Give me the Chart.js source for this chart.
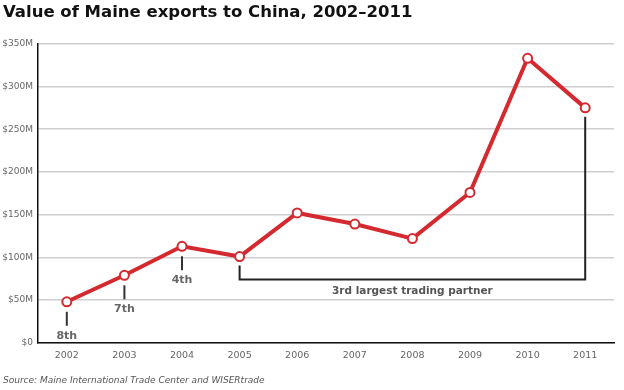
<!DOCTYPE html>
<html>
<head>
<meta charset="utf-8">
<script src="https://cdn.jsdelivr.net/npm/chart.js@4.4.1/dist/chart.umd.min.js"></script>
<style>
  html, body { margin: 0; padding: 0; background: #fff; }
  #wrap { width: 624px; height: 390px; position: relative; }
</style>
</head>
<body>
<div id="wrap"><canvas id="c" width="624" height="390"></canvas></div>
<script>
// ---- Data ----
const years = ['2002','2003','2004','2005','2006','2007','2008','2009','2010','2011'];
const exportsMillions = [48, 79, 113, 101, 152, 139, 122, 176, 333, 275];
const rankLabels = ['8th', '7th', '4th'];
const rankYears = ['2002', '2003', '2004'];
const bracketLabel = '3rd largest trading partner';
const bracketStartYear = '2005';
const bracketEndYear = '2011';
const yTickValues = [0, 50, 100, 150, 200, 250, 300, 350];

const FONT = 'DejaVu Sans, Verdana, sans-serif';

const annotations = {
  id: 'annotations',
  afterDatasetsDraw(chart) {
    const ctx = chart.ctx;
    const x = chart.scales.x, y = chart.scales.y;
    ctx.save();
    ctx.font = 'bold 11px ' + FONT;
    ctx.fillStyle = '#666';
    ctx.textAlign = 'center';
    ctx.textBaseline = 'middle';
    rankYears.forEach((yr, i) => {
      const idx = years.indexOf(yr);
      const px = x.getPixelForValue(idx);
      const py = y.getPixelForValue(exportsMillions[idx]);
      ctx.strokeStyle = '#333';
      ctx.lineWidth = 2;
      ctx.beginPath();
      ctx.moveTo(px, py + 10);
      ctx.lineTo(px, py + 24);
      ctx.stroke();
      ctx.fillText(rankLabels[i], px, py + 34);
    });
    const i0 = years.indexOf(bracketStartYear), i1 = years.indexOf(bracketEndYear);
    const x0 = x.getPixelForValue(i0), x1 = x.getPixelForValue(i1);
    const y0 = y.getPixelForValue(exportsMillions[i0]);
    const y1 = y.getPixelForValue(exportsMillions[i1]);
    const yb = y0 + 23;
    ctx.strokeStyle = '#222';
    ctx.lineWidth = 2;
    ctx.beginPath();
    ctx.moveTo(x0, y0 + 9);
    ctx.lineTo(x0, yb);
    ctx.lineTo(x1, yb);
    ctx.lineTo(x1, y1 + 9);
    ctx.stroke();
    ctx.fillStyle = '#555';
    ctx.font = 'bold 10.5px ' + FONT;
    ctx.fillText(bracketLabel, (x0 + x1) / 2, yb + 12);
    ctx.restore();
  }
};

new Chart(document.getElementById('c'), {
  type: 'line',
  data: {
    labels: years,
    datasets: [{
      data: exportsMillions,
      borderColor: '#d42a2f',
      borderWidth: 4,
      pointRadius: 4.5,
      pointBorderWidth: 2,
      pointBackgroundColor: '#fff',
      pointBorderColor: '#d42a2f',
      tension: 0,
      clip: false
    }]
  },
  options: {
    responsive: false,
    animation: false,
    devicePixelRatio: 1,
    layout: { padding: { left: 3, right: 10, top: 0, bottom: 0 } },
    plugins: {
      legend: { display: false },
      tooltip: { enabled: false },
      title: {
        display: true,
        text: 'Value of Maine exports to China, 2002–2011',
        align: 'start',
        color: '#111',
        font: { family: FONT, weight: 'bold', size: 16.5 },
        padding: { top: 3, bottom: 21 }
      },
      subtitle: {
        display: true,
        position: 'bottom',
        text: 'Source: Maine International Trade Center and WISERtrade',
        align: 'start',
        color: '#555',
        font: { family: FONT, style: 'italic', size: 9 },
        padding: { top: 7, bottom: 4 }
      }
    },
    scales: {
      x: {
        offset: true,
        grid: { display: false, drawTicks: false },
        border: { display: true, color: '#111', width: 1.5 },
        ticks: { color: '#666', font: { family: FONT, size: 9.5 }, padding: 7 }
      },
      y: {
        min: 0,
        max: 350,
        afterBuildTicks(scale) { scale.ticks = yTickValues.map(v => ({ value: v })); },
        afterFit(scale) { scale.width = 35; },
        grid: { color: '#cfcfcf', lineWidth: 1.5, drawTicks: false },
        border: { display: true, color: '#111', width: 1.5 },
        ticks: {
          color: '#666',
          font: { family: FONT, size: 9 },
          padding: 5,
          callback: v => v === 0 ? '$0' : '$' + v + 'M'
        }
      }
    }
  },
  plugins: [annotations]
});
</script>
</body>
</html>
